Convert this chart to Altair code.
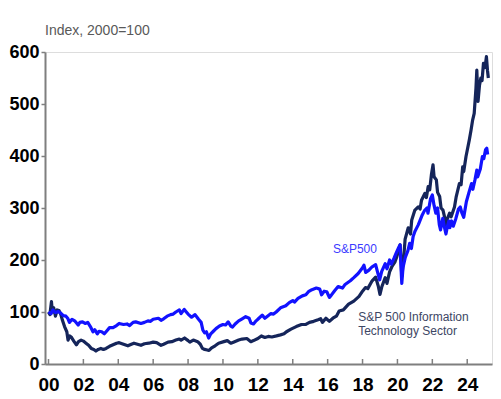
import altair as alt
import pandas as pd

# S&P500 (index, 2000 = 100)
sp_years = [2000.0, 2000.15, 2000.25, 2000.4, 2000.55, 2000.7, 2000.85, 2001.0, 2001.1, 2001.2,
            2001.35, 2001.5, 2001.7, 2001.8, 2001.95, 2002.1, 2002.25, 2002.4, 2002.55, 2002.65,
            2002.8, 2002.9, 2003.05, 2003.2, 2003.35, 2003.5, 2003.7, 2003.9, 2004.05, 2004.3,
            2004.5, 2004.65, 2004.85, 2005.0, 2005.3, 2005.5, 2005.7, 2005.85, 2006.0, 2006.3,
            2006.45, 2006.6, 2006.8, 2007.0, 2007.15, 2007.3, 2007.5, 2007.6, 2007.78, 2007.9,
            2008.0, 2008.2, 2008.4, 2008.6, 2008.75, 2008.85, 2008.95, 2009.05, 2009.18, 2009.3,
            2009.45, 2009.6, 2009.8, 2010.0, 2010.15, 2010.3, 2010.45, 2010.55, 2010.7, 2010.9,
            2011.1, 2011.3, 2011.5, 2011.6, 2011.75, 2011.9, 2012.0, 2012.25, 2012.4, 2012.55,
            2012.75, 2012.9, 2013.05, 2013.3, 2013.45, 2013.6, 2013.8, 2014.0, 2014.1, 2014.3,
            2014.55, 2014.75, 2014.9, 2015.1, 2015.35, 2015.55, 2015.65, 2015.8, 2015.95, 2016.1,
            2016.2, 2016.4, 2016.6, 2016.85, 2017.0, 2017.3, 2017.5, 2017.75, 2018.0, 2018.08,
            2018.18, 2018.35, 2018.55, 2018.75, 2018.85, 2018.98, 2019.1, 2019.3, 2019.4, 2019.55,
            2019.65, 2019.8, 2019.95, 2020.1, 2020.15, 2020.22, 2020.25, 2020.32, 2020.45, 2020.6,
            2020.7, 2020.8, 2020.9, 2021.0, 2021.2, 2021.4, 2021.55, 2021.7, 2021.75, 2021.9,
            2022.0, 2022.1, 2022.2, 2022.3, 2022.4, 2022.47, 2022.6, 2022.7, 2022.78, 2022.85,
            2022.95, 2023.0, 2023.1, 2023.2, 2023.35, 2023.5, 2023.6, 2023.7, 2023.8, 2023.95,
            2024.1, 2024.25, 2024.32, 2024.45, 2024.55, 2024.6, 2024.75, 2024.87, 2024.95, 2025.05,
            2025.12, 2025.17]
sp_values = [100, 97, 104, 99, 101, 98, 93, 92, 88, 80,
             86, 83, 75, 80, 81, 78, 80, 72, 62, 66,
             58, 63, 62, 58, 64, 70, 70, 74, 78, 76,
             77, 74, 80, 81, 78, 80, 83, 82, 86, 88,
             84, 87, 92, 95, 96, 100, 104, 97, 105, 100,
             96, 90, 95, 86, 80, 65, 60, 62, 50, 58,
             63, 68, 73, 76, 75, 81, 73, 71, 77, 83,
             87, 91, 88, 79, 77, 83, 86, 94, 88, 92,
             97, 96, 100, 108, 110, 112, 118, 122, 119, 126,
             131, 133, 139, 143, 146, 144, 133, 140, 139, 128,
             132, 141, 149, 146, 153, 160, 166, 174, 185, 190,
             176, 180, 187, 191, 178, 162, 178, 193, 183, 200,
             192, 203, 215, 226, 229, 175, 155, 186, 205, 218,
             232, 222, 245, 255, 268, 285, 295, 300, 290, 318,
             325, 305, 290, 300, 268, 258, 280, 262, 250, 262,
             275, 262, 275, 265, 280, 298, 302, 290, 282, 312,
             330, 347, 336, 355, 373, 360, 375, 399, 395, 412,
             415, 403]

# S&P 500 Information Technology Sector (index, 2000 = 100)
it_years = [2000.0, 2000.08, 2000.17, 2000.22, 2000.3, 2000.4, 2000.5, 2000.6, 2000.7, 2000.8,
            2000.92, 2001.05, 2001.12, 2001.22, 2001.3, 2001.45, 2001.6, 2001.72, 2001.87, 2002.0,
            2002.15, 2002.3, 2002.45, 2002.6, 2002.72, 2002.85, 2003.0, 2003.15, 2003.3, 2003.5,
            2003.7, 2003.9, 2004.05, 2004.3, 2004.55, 2004.75, 2004.9, 2005.1, 2005.3, 2005.5,
            2005.75, 2006.0, 2006.2, 2006.45, 2006.6, 2006.85, 2007.07, 2007.3, 2007.5, 2007.6,
            2007.8, 2008.0, 2008.1, 2008.3, 2008.55, 2008.7, 2008.82, 2008.95, 2009.1, 2009.2,
            2009.35, 2009.55, 2009.75, 2010.05, 2010.25, 2010.45, 2010.6, 2010.9, 2011.1, 2011.37,
            2011.6, 2011.75, 2012.0, 2012.2, 2012.4, 2012.6, 2012.8, 2013.07, 2013.3, 2013.5,
            2013.64, 2013.9, 2014.2, 2014.5, 2014.75, 2014.96, 2015.2, 2015.45, 2015.6, 2015.7,
            2015.9, 2016.1, 2016.3, 2016.5, 2016.66, 2016.9, 2017.2, 2017.5, 2017.8, 2018.0,
            2018.17, 2018.3, 2018.55, 2018.75, 2018.9, 2019.0, 2019.1, 2019.3, 2019.4, 2019.55,
            2019.68, 2019.85, 2019.97, 2020.1, 2020.15, 2020.22, 2020.25, 2020.35, 2020.44, 2020.62,
            2020.75, 2020.82, 2021.0, 2021.19, 2021.3, 2021.38, 2021.57, 2021.66, 2021.76, 2021.85,
            2021.95, 2022.04, 2022.1, 2022.23, 2022.3, 2022.42, 2022.5, 2022.61, 2022.7, 2022.8,
            2022.85, 2022.99, 2023.08, 2023.27, 2023.37, 2023.55, 2023.65, 2023.74, 2023.8, 2023.93,
            2024.12, 2024.22, 2024.31, 2024.4, 2024.5, 2024.55, 2024.62, 2024.7, 2024.78, 2024.85,
            2024.93, 2025.02, 2025.1, 2025.16, 2025.21]
it_values = [100, 95, 120, 100, 108, 92, 104, 103, 96, 84,
             72, 62, 46, 54, 52, 44, 37, 43, 46, 44,
             40, 36, 30, 28, 25, 28, 30, 28, 30, 34,
             37, 40, 41, 38, 35, 38, 40, 38, 36, 39,
             40, 42, 41, 36, 38, 42, 43, 46, 48, 46,
             50, 45, 42, 46, 43, 38, 30, 28, 27, 26,
             31, 35, 40, 43, 45, 40, 42, 46, 48, 49,
             43, 45, 49, 54, 51, 53, 52, 54, 56, 58,
             62, 67, 72, 76, 76, 80, 82, 85, 87, 80,
             88, 82, 88, 92, 102, 104, 115, 121, 130, 140,
             147, 145, 160, 167, 150, 134, 148, 166, 155, 177,
             187, 196, 207, 222, 229, 190, 168, 200, 240, 262,
             250, 277, 296, 302, 298, 315, 328, 320, 341, 335,
             365, 383, 360, 354, 330, 322, 300, 296, 283, 264,
             278, 290, 283, 302, 322, 347, 345, 379, 370, 399,
             431, 450, 469, 482, 530, 565, 505, 535, 550, 545,
             578, 570, 591, 565, 550]

x_tick_years = [2000, 2002, 2004, 2006, 2008, 2010, 2012, 2014, 2016, 2018, 2020, 2022, 2024]
y_tick_values = [0, 100, 200, 300, 400, 500, 600]

series_names = ["S&P 500 Information Technology Sector", "S&P500"]
series_colors = ["#15255a", "#1212ff"]

label_text = ["S&P500", "S&P 500 Information", "Technology Sector"]
label_year = [2016.3, 2017.75, 2017.75]
label_value = [213, 82, 56]
label_color = ["#3b3bff", "#3d4664", "#3d4664"]

df = pd.concat([
    pd.DataFrame({"year": it_years, "value": it_values, "series": series_names[0]}),
    pd.DataFrame({"year": sp_years, "value": sp_values, "series": series_names[1]}),
])
labels = pd.DataFrame({"year": label_year, "value": label_value, "text": label_text, "color": label_color})
ticks = pd.DataFrame({"year": x_tick_years})

W, H = 447, 312
FONT = "Liberation Sans"
GRAY = "#7f7f7f"
xscale = alt.Scale(domain=[1999.8, 2025.42], nice=False, zero=False)
yscale = alt.Scale(domain=[0, 600], nice=False)

x_axis = alt.Axis(
    title="", values=x_tick_years, ticks=False, grid=False,
    domainColor=GRAY, domainWidth=2, labelOverlap=False,
    labelExpr="(datum.value % 100) < 10 ? '0' + (datum.value % 100) : '' + (datum.value % 100)",
    labelFont=FONT, labelFontWeight="bold", labelFontSize=19, labelColor="#000000",
    labelPadding=11, labelFlush=False)
y_axis = alt.Axis(
    title="", values=y_tick_values, grid=False, tickSize=4, tickColor=GRAY,
    tickWidth=1.5, domainColor=GRAY, domainWidth=2, labelOverlap=False,
    labelFont=FONT, labelFontWeight="bold", labelFontSize=18, labelColor="#000000",
    labelPadding=2, labelFlush=False)

lines = alt.Chart(df).mark_line(strokeWidth=3.2, strokeJoin="round").encode(
    x=alt.X("year:Q", scale=xscale, axis=x_axis),
    y=alt.Y("value:Q", scale=yscale, axis=y_axis),
    color=alt.Color("series:N", scale=alt.Scale(domain=series_names, range=series_colors), legend=None),
    order=alt.Order("year:Q"),
    detail="series:N",
)

xticks = alt.Chart(ticks).mark_rule(color=GRAY, strokeWidth=1.5).encode(
    x=alt.X("year:Q", scale=xscale, axis=x_axis),
    y=alt.value(H),
    y2=alt.value(H - 5),
)

texts = alt.Chart(labels).mark_text(align="left", baseline="alphabetic", font=FONT, fontSize=12).encode(
    x=alt.X("year:Q", scale=xscale, axis=x_axis),
    y=alt.Y("value:Q", scale=yscale, axis=y_axis),
    text="text:N",
    color=alt.Color("color:N", scale=None),
)

title = alt.Chart(pd.DataFrame({"t": ["Index, 2000=100"]})).mark_text(
    align="left", baseline="alphabetic", font=FONT, fontSize=14, color="#595959"
).encode(x=alt.value(0), y=alt.value(-17), text="t:N")

chart = alt.layer(xticks, lines, texts, title).properties(
    width=W, height=H,
    autosize=alt.AutoSizeParams(type="none"),
    padding={"left": 37, "top": 44, "right": 1, "bottom": 35},
).configure_view(stroke=GRAY, strokeWidth=2).configure(background="white")

chart.save("out.html", embed_options={"renderer": "svg", "actions": False})
